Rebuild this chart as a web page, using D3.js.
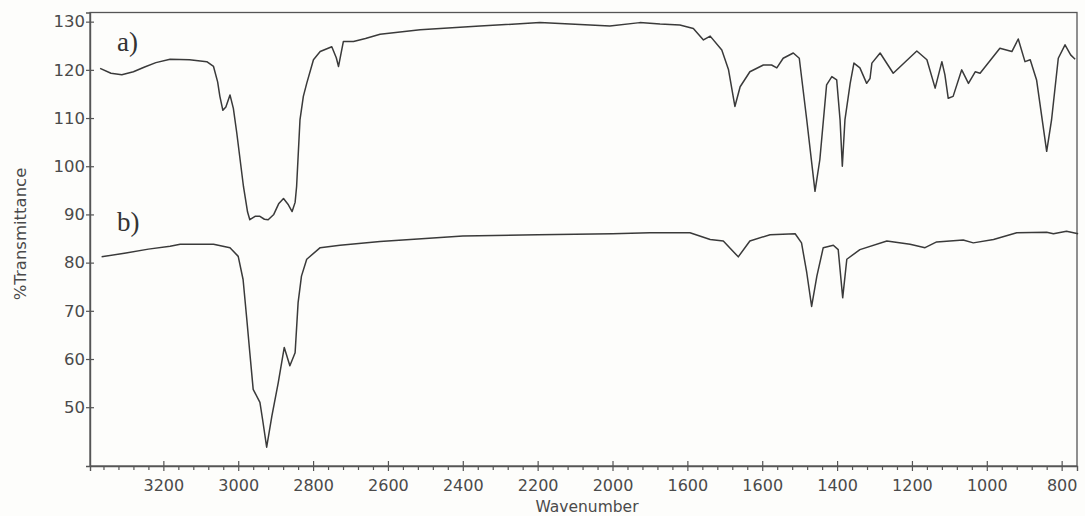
<!DOCTYPE html>
<html>
<head>
<meta charset="utf-8">
<script src="https://cdn.jsdelivr.net/npm/d3@7"></script>
<style>
  html, body { margin: 0; padding: 0; background: #fdfdfb; }
  svg { display: block; }
  .tick text { font-family: "DejaVu Sans", sans-serif; fill: #4a4a4a; }
</style>
</head>
<body>
<svg id="chart" width="1085" height="516"></svg>
<script>
// ---- data ----
const xTickValues = [3200, 3000, 2800, 2600, 2400, 2200, 2000, 1800, 1600, 1400, 1200, 1000, 800];
const xTickLabels = ["3200", "3000", "2800", "2600", "2400", "2200", "2000", "1600", "1600", "1400", "1200", "1000", "800"];
const yTickValues = [50, 60, 70, 80, 90, 100, 110, 120, 130];
const seriesNames = ["a)", "b)"];

const waveA = [3369, 3340, 3311, 3280, 3250, 3220, 3182, 3130, 3084, 3066, 3055, 3049, 3041, 3033, 3022, 3013, 3004, 2986, 2975, 2969, 2955, 2942, 2930, 2920, 2905, 2892, 2879, 2866, 2856, 2848, 2844, 2835, 2826, 2817, 2799, 2781, 2750, 2738, 2732, 2725, 2719, 2692, 2660, 2621, 2514, 2354, 2194, 2060, 2007, 1927, 1873, 1820, 1784, 1757, 1739, 1708, 1690, 1673, 1659, 1633, 1597, 1575, 1561, 1544, 1517, 1501, 1481, 1459, 1446, 1428, 1414, 1401, 1392, 1386, 1379, 1365, 1355, 1339, 1321, 1312, 1307, 1285, 1250, 1187, 1160, 1138, 1120, 1112, 1103, 1090, 1067, 1049, 1031, 1018, 965, 933, 916, 898, 884, 867, 840, 827, 809, 791, 776, 764];
const transA = [120.3, 119.3, 119.0, 119.6, 120.6, 121.5, 122.2, 122.1, 121.7, 120.7, 117.5, 114.5, 111.6, 112.3, 114.8, 112.0, 107.0, 95.8, 90.5, 88.9, 89.6, 89.6, 89.0, 88.9, 90.0, 92.2, 93.3, 92.0, 90.6, 92.5, 95.8, 109.6, 114.5, 117.2, 122.1, 123.8, 124.8, 122.5, 120.7, 123.5, 125.9, 125.9, 126.5, 127.4, 128.3, 129.1, 129.8, 129.3, 129.1, 129.8, 129.5, 129.3, 128.6, 126.2, 127.0, 124.1, 120.0, 112.4, 116.5, 119.6, 121.0, 121.0, 120.4, 122.4, 123.5, 122.4, 109.6, 94.8, 101.4, 116.9, 118.6, 117.9, 109.6, 100.0, 109.6, 117.2, 121.4, 120.4, 117.2, 118.2, 121.4, 123.5, 119.3, 123.9, 122.1, 116.2, 121.7, 119.0, 114.1, 114.5, 120.0, 117.2, 119.6, 119.3, 124.5, 123.8, 126.4, 121.7, 122.1, 117.9, 103.1, 109.6, 122.4, 125.2, 123.1, 122.2];

const waveB = [3365, 3300, 3240, 3182, 3155, 3066, 3022, 3000, 2987, 2977, 2969, 2960, 2942, 2935, 2924, 2910, 2893, 2877, 2862, 2848, 2840, 2831, 2817, 2781, 2728, 2621, 2500, 2400, 2200, 2000, 1900, 1793, 1739, 1704, 1664, 1633, 1579, 1512, 1495, 1481, 1468, 1454, 1437, 1410, 1397, 1385, 1374, 1339, 1267, 1205, 1165, 1134, 1063, 1036, 982, 920, 840, 822, 787, 756];
const transB = [81.2, 82.0, 82.8, 83.4, 83.8, 83.8, 83.1, 81.3, 76.5, 68.2, 61.3, 53.7, 51.0, 47.5, 41.7, 48.2, 55.1, 62.4, 58.6, 61.3, 71.7, 77.2, 80.7, 83.1, 83.6, 84.4, 85.0, 85.5, 85.8, 86.0, 86.2, 86.2, 84.8, 84.5, 81.2, 84.5, 85.8, 86.0, 84.1, 77.9, 70.9, 77.2, 83.1, 83.6, 82.7, 72.7, 80.7, 82.7, 84.5, 83.8, 83.1, 84.3, 84.7, 84.1, 84.8, 86.2, 86.3, 86.0, 86.5, 86.0];

// ---- layout ----
const margin = { left: 90, top: 12.5, right: 8, bottom: 50 };
const W = 1085, H = 516;
const plotW = 1077 - margin.left, plotH = 466 - margin.top;

const svg = d3.select("#chart");
const g = svg.append("g").attr("transform", `translate(${margin.left},${margin.top})`);

const x = d3.scaleLinear().domain([3396, 759]).range([0, plotW]);
const y = d3.scaleLinear().domain([37.8, 131.9]).range([plotH, 0]);

const ink = "#3a3a3a";

// frame
g.append("rect").attr("x", 0).attr("y", 0).attr("width", plotW).attr("height", plotH)
  .attr("fill", "none").attr("stroke", "#555").attr("stroke-width", 1.3);

// minor x ticks (every 40)
const minor = d3.range(800, 3400, 40).filter(v => v % 200 !== 0);
const minorAxis = g.append("g").attr("transform", `translate(0,${plotH})`)
  .call(d3.axisBottom(x).tickValues(minor).tickSize(4).tickFormat(""));
minorAxis.select(".domain").remove();
minorAxis.selectAll("line").attr("stroke", "#555").attr("stroke-width", 1.2);

// major x axis
const xAxis = g.append("g").attr("transform", `translate(0,${plotH})`)
  .call(d3.axisBottom(x).tickValues(xTickValues).tickSize(5).tickPadding(9)
    .tickFormat((d, i) => xTickLabels[i]));
xAxis.select(".domain").attr("stroke", "#555").attr("stroke-width", 1.4);
xAxis.selectAll("line").attr("y1", -5).attr("y2", 5).attr("stroke", "#555").attr("stroke-width", 1.2);
xAxis.selectAll("text").attr("font-size", 16);

// y axis
const yAxis = g.append("g")
  .call(d3.axisLeft(y).tickValues(yTickValues).tickSize(4).tickPadding(1));
yAxis.select(".domain").attr("stroke", "#555").attr("stroke-width", 1.4);
yAxis.selectAll("line").attr("x1", 4).attr("x2", -4).attr("stroke", "#555").attr("stroke-width", 1.2);
yAxis.selectAll("text").attr("font-size", 16.5);

// spectra
const line = d3.line().x(d => x(d[0])).y(d => y(d[1]));
const dataA = waveA.map((w, i) => [w, transA[i]]);
const dataB = waveB.map((w, i) => [w, transB[i]]);
[dataA, dataB].forEach(d => {
  g.append("path").datum(d).attr("d", line)
    .attr("fill", "none").attr("stroke", ink).attr("stroke-width", 1.5)
    .attr("stroke-linejoin", "round");
});

// series labels
svg.append("text").attr("x", 117).attr("y", 51).text(seriesNames[0])
  .attr("font-family", "Liberation Serif, serif").attr("font-size", 27).attr("fill", "#333");
svg.append("text").attr("x", 117).attr("y", 231).text(seriesNames[1])
  .attr("font-family", "Liberation Serif, serif").attr("font-size", 27).attr("fill", "#333");

// axis titles
svg.append("text").attr("x", 587).attr("y", 512).attr("text-anchor", "middle")
  .text("Wavenumber").attr("font-family", "DejaVu Sans, sans-serif").attr("font-size", 15.5).attr("fill", "#4a4a4a");
svg.append("text").attr("transform", "translate(26,234) rotate(-90)").attr("text-anchor", "middle")
  .text("%Transmittance").attr("font-family", "DejaVu Sans, sans-serif").attr("font-size", 16.5).attr("fill", "#4a4a4a");
</script>
</body>
</html>
